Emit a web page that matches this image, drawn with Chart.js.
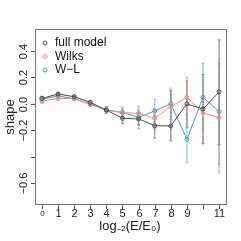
<!DOCTYPE html>
<html>
<head>
  <script src="https://cdn.jsdelivr.net/npm/chart.js@4.4.1/dist/chart.umd.min.js"></script>
  <style>
    html, body { margin: 0; padding: 0; background: #fff; }
    #c { display: block; }
  </style>
</head>
<body>
  <canvas id="c" width="241" height="241"></canvas>
  <script>
    // energy bins, log2(E/E0)
    const xVals = [0, 1, 2, 3, 4, 5, 6, 7, 8, 9, 10, 11];
    const xTickLabels = ['0', '1', '2', '3', '4', '5', '6', '7', '8', '9', '', '11'];
    const yTicks = [-0.6, -0.4, -0.2, 0.0, 0.2, 0.4];
    const yTickLabels = ['\u22120.6', '', '\u22120.2', '0.0', '0.2', '0.4'];

    const fullModel = [0.04, 0.073, 0.053, 0.01, -0.048, -0.11, -0.115, -0.166, -0.168, -0.002, -0.04, 0.088];
    const fullLo    = [0.025, 0.06, 0.04, -0.005, -0.07, -0.15, -0.16, -0.26, -0.28, -0.18, -0.30, -0.31];
    const fullHi    = [0.055, 0.085, 0.065, 0.025, -0.025, -0.07, -0.07, -0.09, 0.10, 0.17, 0.22, 0.48];

    const wilks   = [0.018, 0.04, 0.038, 0.0, -0.048, -0.068, -0.073, -0.11, -0.022, 0.048, -0.07, -0.105];
    const wilksLo = [0.008, 0.03, 0.028, -0.012, -0.065, -0.10, -0.12, -0.19, -0.12, -0.12, -0.30, -0.52];
    const wilksHi = [0.028, 0.05, 0.048, 0.012, -0.03, -0.04, -0.02, -0.04, 0.07, 0.20, 0.18, 0.30];

    const wl   = [0.035, 0.058, 0.038, -0.005, -0.048, -0.065, -0.103, -0.055, 0.0, -0.27, 0.048, -0.06];
    const wlLo = [0.02, 0.045, 0.025, -0.02, -0.07, -0.11, -0.19, -0.14, -0.20, -0.445, -0.20, -0.46];
    const wlHi = [0.05, 0.07, 0.05, 0.01, -0.025, -0.025, -0.045, 0.033, 0.116, -0.08, 0.305, 0.34];

    const cFull = '#4a4a4a', cWilks = '#e8907e', cWL = '#4a9cc0';

    const series = [
      { label: 'full model', y: fullModel, lo: fullLo, hi: fullHi, color: cFull, bar: 'rgba(70,70,70,0.5)' },
      { label: 'Wilks', y: wilks, lo: wilksLo, hi: wilksHi, color: cWilks, bar: 'rgba(220,125,105,0.5)' },
      { label: 'W\u2212L', y: wl, lo: wlLo, hi: wlHi, color: cWL, bar: 'rgba(80,165,200,0.5)' }
    ];

    const FONT = 'Liberation Sans, Arial, sans-serif';

    // error bars, box, axes and legend drawn with the chart's own scales
    const decor = {
      id: 'decor',
      beforeDatasetsDraw(chart) {
        const { ctx, scales: { x, y } } = chart;
        ctx.save();
        series.forEach(s => {
          ctx.strokeStyle = s.bar;
          ctx.lineWidth = 1.5;
          xVals.forEach((xv, i) => {
            const px = x.getPixelForValue(xv);
            const top = y.getPixelForValue(s.hi[i]);
            const bot = y.getPixelForValue(s.lo[i]);
            ctx.beginPath();
            ctx.moveTo(px, top); ctx.lineTo(px, bot);
            ctx.moveTo(px - 1.5, top); ctx.lineTo(px + 1.5, top);
            ctx.moveTo(px - 1.5, bot); ctx.lineTo(px + 1.5, bot);
            ctx.stroke();
          });
        });
        ctx.restore();
      },
      afterDraw(chart) {
        const { ctx, chartArea: a, scales: { x, y } } = chart;
        ctx.save();
        // box
        ctx.strokeStyle = '#777';
        ctx.lineWidth = 1;
        ctx.strokeRect(a.left + 0.5, a.top + 0.5, a.right - a.left - 1, a.bottom - a.top - 1);

        // x ticks
        ctx.strokeStyle = '#555';
        ctx.fillStyle = '#222';
        ctx.textAlign = 'center';
        ctx.textBaseline = 'middle';
        xVals.forEach((xv, i) => {
          const px = Math.round(x.getPixelForValue(xv)) + 0.5;
          ctx.beginPath();
          ctx.moveTo(px, a.bottom); ctx.lineTo(px, a.bottom + 4);
          ctx.stroke();
          ctx.font = (i === 0 ? '8px ' : '11px ') + FONT;
          ctx.fillText(xTickLabels[i], px, a.bottom + 9);
        });

        // y ticks, rotated labels
        yTicks.forEach((yv, i) => {
          const py = Math.round(y.getPixelForValue(yv)) + 0.5;
          ctx.beginPath();
          ctx.moveTo(a.left, py); ctx.lineTo(a.left - 4, py);
          ctx.stroke();
          if (yTickLabels[i]) {
            ctx.save();
            ctx.translate(a.left - 11, py);
            ctx.rotate(-Math.PI / 2);
            ctx.font = '11px ' + FONT;
            ctx.fillText(yTickLabels[i], 0, 0);
            ctx.restore();
          }
        });

        // axis titles
        ctx.font = '13px ' + FONT;
        ctx.fillText('log\u208B\u2082(E/E\u2080)', 130, 226);
        ctx.save();
        ctx.translate(10, 117);
        ctx.rotate(-Math.PI / 2);
        ctx.fillText('shape', 0, 0);
        ctx.restore();

        // legend
        ctx.textAlign = 'left';
        ctx.font = '12px ' + FONT;
        series.forEach((s, i) => {
          const ly = a.top + 14 + i * 13.5;
          ctx.strokeStyle = s.color;
          ctx.lineWidth = 1;
          ctx.beginPath();
          ctx.arc(a.left + 10, ly, 2, 0, Math.PI * 2);
          ctx.stroke();
          ctx.fillStyle = '#111';
          ctx.fillText(s.label, a.left + 20, ly);
        });
        ctx.restore();
      }
    };

    new Chart(document.getElementById('c'), {
      type: 'scatter',
      data: {
        datasets: series.map(s => ({
          label: s.label,
          data: xVals.map((xv, i) => ({ x: xv, y: s.y[i] })),
          showLine: true,
          borderColor: s.color,
          borderWidth: 1,
          backgroundColor: 'rgba(255,255,255,0)',
          pointBorderColor: s.color,
          pointBorderWidth: 1,
          pointRadius: 2,
          tension: 0
        }))
      },
      options: {
        responsive: false,
        animation: false,
        devicePixelRatio: 1,
        layout: { padding: { left: 35, right: 14, top: 29, bottom: 36 } },
        plugins: { legend: { display: false }, tooltip: { enabled: false } },
        scales: {
          x: { type: 'linear', min: -0.43, max: 11.49, display: false },
          y: { type: 'linear', min: -0.765, max: 0.564, display: false }
        }
      },
      plugins: [decor]
    });
  </script>
</body>
</html>
